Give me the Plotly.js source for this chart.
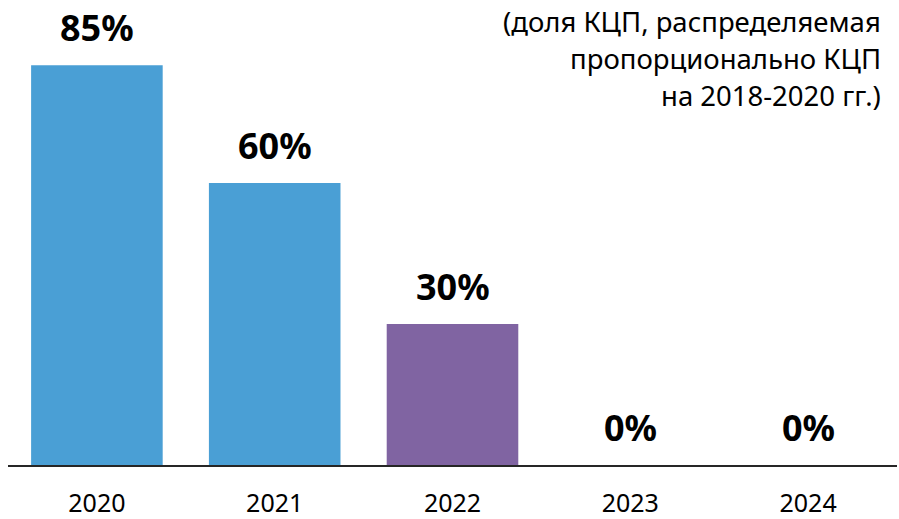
<!DOCTYPE html>
<html>
<head>
<meta charset="utf-8">
<script src="https://cdn.plot.ly/plotly-3.0.1.min.js"></script>
<style>html,body{margin:0;padding:0;background:#fff;}#chart{width:899px;height:519px;}</style>
</head>
<body>
<div id="chart"></div>
<script>
const years = ['2020', '2021', '2022', '2023', '2024'];
const shares = [85, 60, 30, 0, 0];
const labels = ['85%', '60%', '30%', '0%', '0%'];
const barColors = ['#4A9FD5', '#4A9FD5', '#8064A2', '#4A9FD5', '#4A9FD5'];
const noteLines = ['(доля КЦП, распределяемая', 'пропорционально КЦП', 'на 2018-2020 гг.)'];

const FONT = 'Noto Sans, Open Sans, sans-serif';

const valueAnnotations = years.map((yr, i) => ({
  x: i, y: shares[i], xref: 'x', yref: 'y',
  text: '<b>' + labels[i] + '</b>', showarrow: false,
  yanchor: 'bottom', yshift: 11,
  font: {family: FONT, size: 36, color: '#000'}
}));

const noteAnnotations = noteLines.map((line, i) => ({
  x: (883 - 8) / 889, y: 1, xref: 'paper', yref: 'paper',
  xanchor: 'right', yanchor: 'middle', yshift: -(21 + i * 37),
  text: line, showarrow: false, align: 'right',
  font: {family: FONT, size: 27.5, color: '#000'}
}));

const data = [{
  type: 'bar', x: years, y: shares,
  marker: {color: barColors},
  hoverinfo: 'skip'
}];

const layout = {
  width: 899, height: 519,
  margin: {l: 8, r: 2, t: 0, b: 54},
  paper_bgcolor: '#fff', plot_bgcolor: '#fff',
  bargap: 0.26,
  showlegend: false,
  xaxis: {
    type: 'category', range: [-0.5, 4.5], showline: true, linecolor: '#262626', linewidth: 1.5,
    ticks: '', showgrid: false, zeroline: false,
    ticklabelstandoff: 15,
    tickfont: {family: FONT, size: 25, color: '#000'}
  },
  yaxis: {
    range: [0, 98.9], visible: false, showgrid: false, zeroline: false, fixedrange: true
  },
  annotations: valueAnnotations.concat(noteAnnotations)
};

Plotly.newPlot('chart', data, layout, {displayModeBar: false, staticPlot: true});
</script>
</body>
</html>
